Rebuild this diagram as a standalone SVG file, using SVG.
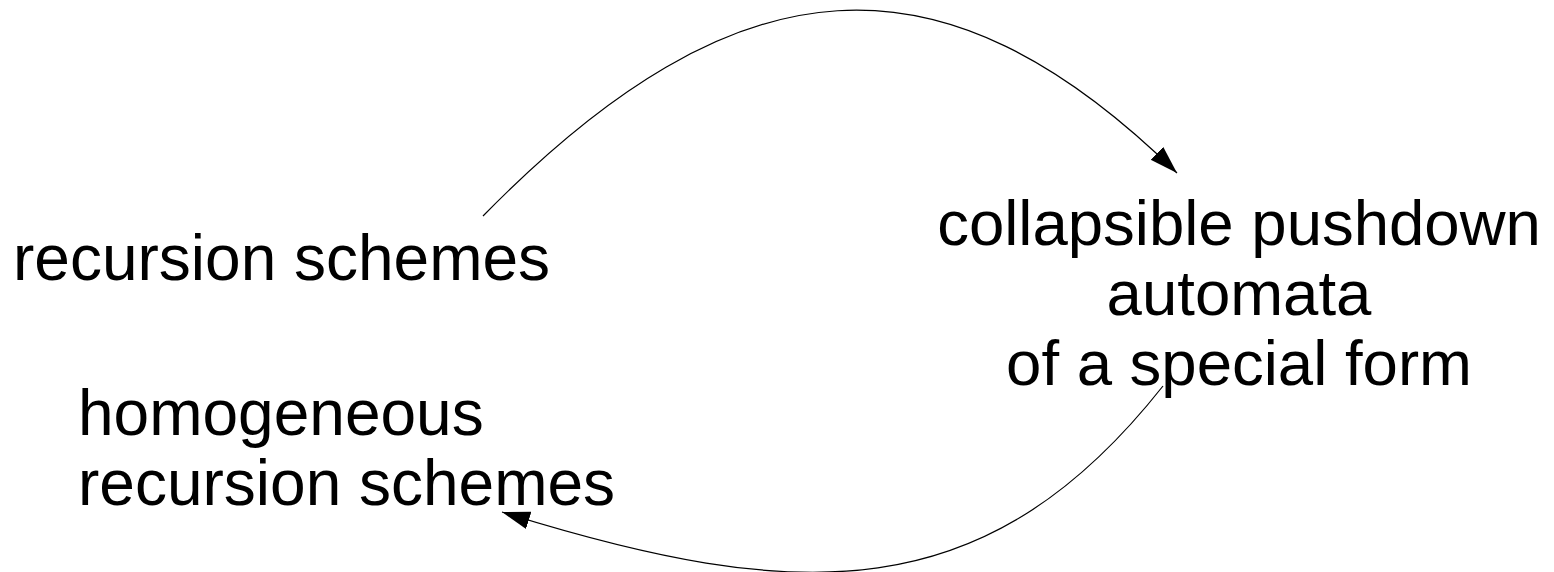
<svg xmlns="http://www.w3.org/2000/svg" width="1554" height="572" viewBox="0 0 1554 572">
  <style>
    text { font-family: "Liberation Sans", Arial, sans-serif; font-size: 64px; fill: #000; }
    .edge { fill: none; stroke: #000; stroke-width: 1.2; }
  </style>
  <defs>
    <marker id="arrow" markerUnits="userSpaceOnUse" markerWidth="30" markerHeight="20" refX="28" refY="9" orient="auto">
      <path d="M0,0 L28,9 L0,18 Z" fill="#000"/>
    </marker>
  </defs>
  <rect width="1554" height="572" fill="#fff"/>
  <g id="connectors">
    <path class="edge" d="M483,216 C738,-44 942,-57 1177,173" marker-end="url(#arrow)"/>
    <path class="edge" d="M1163,386 C986,610 800,605 502,512" marker-end="url(#arrow)"/>
  </g>
  <g id="node-recursion">
    <text x="13" y="280">recursion schemes</text>
  </g>
  <g id="node-cpda">
    <text x="1239" y="245" text-anchor="middle" style="font-size:63.5px">collapsible pushdown</text>
    <text x="1239" y="315" text-anchor="middle" style="font-size:63.5px">automata</text>
    <text x="1239" y="385" text-anchor="middle" style="font-size:63.5px">of a special form</text>
  </g>
  <g id="node-homogeneous">
    <text x="78" y="435">homogeneous</text>
    <text x="78" y="505">recursion schemes</text>
  </g>
</svg>
